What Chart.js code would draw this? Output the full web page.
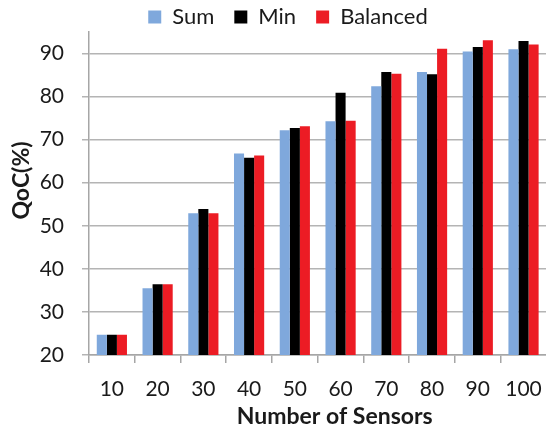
<!DOCTYPE html>
<html>
<head>
<meta charset="utf-8">
<script src="https://cdn.jsdelivr.net/npm/chart.js@4.4.0/dist/chart.umd.min.js"></script>
<style>
  html, body { margin: 0; padding: 0; background: #fff; overflow: hidden; }
  #wrap { width: 556px; height: 432px; }
</style>
</head>
<body>
<div id="wrap"><canvas id="c" width="556" height="432"></canvas></div>
<script>
const categories = ['10', '20', '30', '40', '50', '60', '70', '80', '90', '100'];
const sumValues = [24.7, 35.5, 52.9, 66.8, 72.2, 74.3, 82.4, 85.7, 90.5, 91.0];
const minValues = [24.7, 36.4, 53.9, 65.8, 72.7, 80.9, 85.7, 85.2, 91.5, 92.9];
const balancedValues = [24.7, 36.4, 52.9, 66.3, 73.1, 74.4, 85.3, 91.1, 93.1, 92.1];
const yTicks = [20, 30, 40, 50, 60, 70, 80, 90];
const seriesNames = ['Sum', 'Min', 'Balanced'];

// small layout adjustments: legend position and axis-title offsets
const tweaks = {
  id: 'tweaks',
  afterUpdate(chart) {
    const lg = chart.legend;
    if (lg) {
      const dx = 12, dy = 6;
      lg.left += dx; lg.right += dx;
      lg.top += dy; lg.bottom += dy;
      lg.adjustHitBoxes();
    }
  },
  afterLayout(chart) {
    const xs = chart.scales.x, ys = chart.scales.y;
    if (xs && !xs._tw) {
      xs._tw = true;
      const orig = xs.drawTitle;
      xs.drawTitle = function () {
        const l = this.left, r = this.right;
        this.left += 17; this.right += 17;
        orig.call(this);
        this.left = l; this.right = r;
      };
    }
    if (ys && !ys._tw) {
      ys._tw = true;
      const orig = ys.drawTitle;
      ys.drawTitle = function () {
        const t = this.top, b = this.bottom;
        this.top -= 13; this.bottom -= 13;
        orig.call(this);
        this.top = t; this.bottom = b;
      };
    }
  }
};

new Chart(document.getElementById('c'), {
  type: 'bar',
  data: {
    labels: categories,
    datasets: [
      { label: seriesNames[0], data: sumValues, backgroundColor: '#7fa8dc' },
      { label: seriesNames[1], data: minValues, backgroundColor: '#000000' },
      { label: seriesNames[2], data: balancedValues, backgroundColor: '#ec1c24' }
    ]
  },
  options: {
    responsive: false,
    animation: false,
    devicePixelRatio: 1,
    layout: { padding: { left: 0, right: 4, top: -20, bottom: 0 } },
    datasets: { bar: { categoryPercentage: 0.66, barPercentage: 1.0 } },
    plugins: {
      legend: {
        position: 'top',
        labels: {
          font: { family: 'Lato', size: 22 },
          color: '#1a1a1a',
          boxWidth: 13, boxHeight: 13,
          padding: 20
        }
      },
      tooltip: { enabled: false }
    },
    scales: {
      x: {
        afterFit(scale) { scale.height = 77; },
        grid: { display: true, drawOnChartArea: false, offset: true, tickLength: 8, color: '#a6a6a6', lineWidth: 1.5 },
        border: { color: '#a6a6a6', width: 1.5 },
        ticks: { font: { family: 'Lato', size: 21 }, color: '#1a1a1a', padding: 14 },
        title: { display: true, text: 'Number of Sensors', font: { family: 'Lato', size: 23, weight: 'bold' }, color: '#1a1a1a', padding: { top: 0, bottom: 2 } }
      },
      y: {
        min: 20, max: 95,
        afterFit(scale) { scale.width = 89; },
        afterBuildTicks(scale) { scale.ticks = yTicks.map(v => ({ value: v })); },
        grid: { color: '#b4b4b4', lineWidth: 1.5, tickLength: 7 },
        border: { color: '#a6a6a6', width: 1.5 },
        ticks: { font: { family: 'Lato', size: 21 }, color: '#1a1a1a', padding: 18 },
        title: { display: true, text: 'QoC(%)', font: { family: 'Lato', size: 23, weight: 'bold' }, color: '#1a1a1a', padding: { top: 8, bottom: 0 } }
      }
    }
  },
  plugins: [tweaks]
});
</script>
</body>
</html>
